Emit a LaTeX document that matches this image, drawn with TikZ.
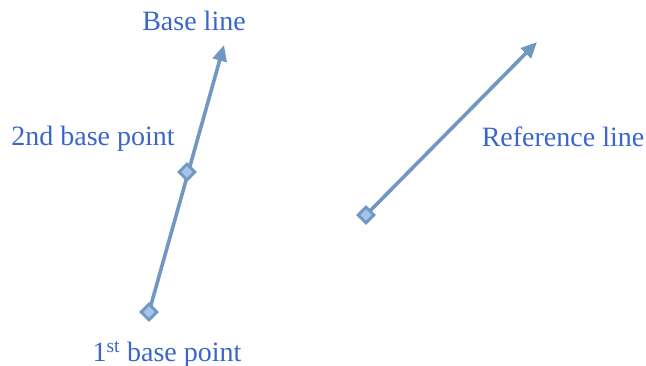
\documentclass[tikz,border=0pt]{standalone}
\usepackage{fontspec}
\setmainfont{Liberation Serif}
\usepackage{xcolor}
\usetikzlibrary{arrows.meta,shapes.geometric}
\definecolor{lineblue}{RGB}{112,152,192}
\definecolor{fillblue}{RGB}{165,195,235}
\definecolor{textblue}{RGB}{58,102,204}

\begin{document}
\begin{tikzpicture}[x=1pt,y=-1pt,
   pt/.style={diamond,draw=lineblue,fill=fillblue,line width=2.8pt,minimum size=17pt,inner sep=0pt},
   lbl/.style={text=textblue,font=\fontsize{28}{30}\selectfont,inner sep=0pt},
   axis/.style={draw=lineblue,line width=3.6pt,-{Triangle[length=16pt,width=14pt]}}]
  \useasboundingbox (0,0) rectangle (646,366);
  % base line through two points
  \coordinate (b1) at (149,312);
  \coordinate (b2) at (187,172);
  \coordinate (btip) at (224,45);
  \draw[axis] (b1) -- (btip);
  \node[pt] (p1) at (b1) {};
  \node[pt] (p2) at (b2) {};
  \node[lbl] (lbase) at (194,21) {Base line};
  \node[lbl] (lsecond) at (93,139) {2nd base point};
  \node[lbl] (lfirst) at (167,354) {1\textsuperscript{st} base point};
  % reference line
  \coordinate (r1) at (366,215);
  \coordinate (rtip) at (537,42);
  \draw[axis] (r1) -- (rtip);
  \node[pt] (pr) at (r1) {};
  \node[lbl] (lref) at (563,137) {Reference line};
\end{tikzpicture}
\end{document}
